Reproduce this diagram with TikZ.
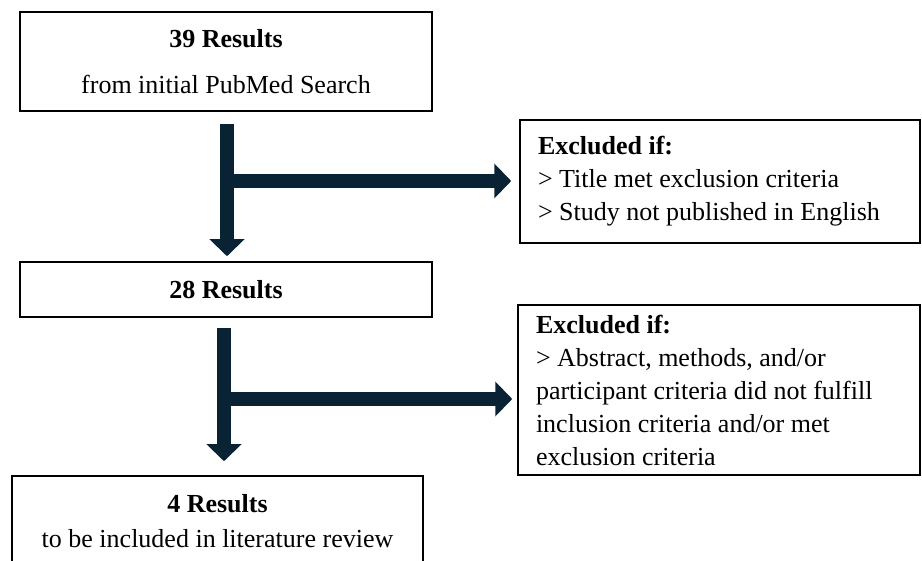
\documentclass[tikz,border=0pt]{standalone}
\usepackage{fontspec}
\setmainfont{Liberation Serif}
\usepackage{tikz}
\usetikzlibrary{arrows.meta,calc}
\definecolor{flowblue}{RGB}{10,35,52}
\tikzset{
   result node/.style={rectangle,draw,line width=1.5pt,align=center,inner sep=0pt,font=\fontsize{26}{33}\selectfont},
   exclude node/.style={rectangle,draw,line width=1.5pt,align=flush left,inner xsep=18pt,inner ysep=0pt,font=\fontsize{26}{33}\selectfont},
   flow/.style={draw=flowblue,line width=14pt,-{Triangle[width=34pt,length=17pt]}}
}

\begin{document}
\begin{tikzpicture}[x=1pt,y=-1pt]
\clip (0,0) rectangle (922,561);
\node[result node,minimum width=412pt,minimum height=99pt] (r1) at (226,61.5)  {\textbf{39 Results}\\[13pt]from initial PubMed Search};
\node[result node,minimum width=412pt,minimum height=55pt] (r2) at (226,289.5) {\textbf{28 Results}};
\node[result node,minimum width=411pt,minimum height=90pt] (r3) at (217.5,521) {\textbf{4 Results}\\[2pt]to be included in literature review};
\node[exclude node,text width=364pt,minimum height=123pt] (x1) at (720,181.5) {\textbf{Excluded if:}\\> Title met exclusion criteria\\> Study not published in English};
\node[exclude node,text width=366pt,minimum height=170pt] (x2) at (719,390) {\textbf{Excluded if:}\\> Abstract, methods, and/or\\participant criteria did not fulfill\\inclusion criteria and/or met\\exclusion criteria};
\coordinate (f1) at (227,181);
\coordinate (f2) at (224,399);
%
\draw[flow,shorten >=5pt]  ([xshift=1pt,yshift=-12pt]r1.south) -- ([xshift=1pt]r1.south |- r2.north);
\draw[flow,shorten >=14pt] ([xshift=-2pt,yshift=-10pt]r2.south) -- ([xshift=-2pt]r2.south |- r3.north);
\draw[flow,shorten >=8pt]  (f1) -- (f1 -| x1.west);
\draw[flow,shorten >=5pt]  (f2) -- (f2 -| x2.west);
\end{tikzpicture}
\end{document}
